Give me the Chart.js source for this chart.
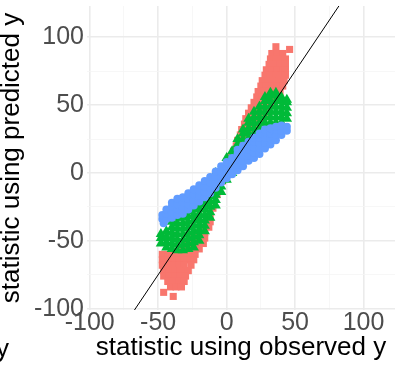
<!DOCTYPE html>
<html>
<head>
<meta charset="utf-8">
<script src="https://cdn.jsdelivr.net/npm/chart.js@4.4.1/dist/chart.umd.min.js"></script>
<style>
  html, body { margin: 0; padding: 0; background: #fff; }
  #wrap { width: 408px; height: 367px; }
</style>
</head>
<body>
<div id="wrap"><canvas id="chart" width="408" height="367"></canvas></div>
<script>
const FONT = '"Liberation Sans", Arial, sans-serif';

// axis ticks (labelled) and minor grid positions
const majorTicks = [-100, -50, 0, 50, 100];
const minorTicks = [-75, -25, 25, 75];
const xRange = [-102, 123];
const yRange = [-101, 123];

// reference line y = slope * x
const refSlope = 1.5;
const refLineX = [-70, 85];

// red squares
const redPoints = [
  [36, 93], [46, 91],
  [33, 88], [37, 88], [41, 88],
  [32, 84], [36, 84], [40, 84], [43, 84],
  [31, 80], [35, 80], [39, 80], [43, 80],
  [29, 76], [33, 76], [37, 76], [41, 76], [43, 76],
  [28, 72], [32, 72], [36, 72], [40, 72], [43, 72],
  [26, 68], [30, 68], [34, 68], [38, 68], [42, 68],
  [25, 64], [29, 64], [33, 64], [37, 64], [41, 64],
  [23, 60], [27, 60], [31, 60], [35, 60], [39, 60],
  [22, 56], [26, 56], [30, 56], [34, 56],
  [20, 52], [24, 52], [28, 52], [32, 52],
  [18, 48], [22, 48], [26, 48], [30, 48],
  [16, 44], [20, 44], [24, 44], [28, 44],
  [14, 40], [18, 40], [22, 40], [26, 40],
  [13, 36], [17, 36], [21, 36],
  [11, 32], [15, 32], [19, 32],
  [10, 28], [14, 28], [18, 28],
  [8, 24], [12, 24], [16, 24],
  [7, 20], [11, 20],
  [5, 16], [9, 16],
  [3, 12], [7, 12],
  [1, 4], [-3, -6], [-7, -16], [-10, -26],
  [-12, -32],
  [-14, -36], [-12, -36],
  [-17, -40], [-13, -40],
  [-20, -44], [-16, -44],
  [-24, -48], [-20, -48], [-16, -48],
  [-28, -52], [-24, -52], [-20, -52], [-17, -52],
  [-32, -56], [-28, -56], [-24, -56], [-20, -56],
  [-47, -60], [-43, -60], [-39, -60], [-35, -60], [-31, -60], [-27, -60], [-23, -60],
  [-47, -64], [-43, -64], [-39, -64], [-35, -64], [-31, -64], [-27, -64], [-24, -64],
  [-47, -68], [-43, -68], [-39, -68], [-35, -68], [-31, -68], [-26, -68],
  [-46, -72], [-42, -72], [-38, -72], [-34, -72], [-30, -72], [-28, -72],
  [-46, -76], [-42, -76], [-38, -76], [-34, -76], [-30, -76],
  [-43, -80], [-39, -80], [-35, -80], [-31, -80],
  [-41, -84], [-37, -84], [-33, -84],
  [-46, -88], [-39, -91]
];

// green triangles
const greenPoints = [
  [-48, -52], [-48, -48], [-48, -45],
  [-44, -55], [-44, -51], [-44, -47], [-44, -43],
  [-40, -56], [-40, -52], [-40, -48], [-40, -44], [-40, -40], [-40, -36],
  [-36, -57], [-36, -53], [-36, -49], [-36, -45], [-36, -41], [-36, -37], [-36, -33],
  [-32, -57], [-32, -53], [-32, -49], [-32, -45], [-32, -41], [-32, -37], [-32, -33], [-32, -29],
  [-28, -56], [-28, -52], [-28, -48], [-28, -44], [-28, -40], [-28, -36], [-28, -32], [-28, -28], [-28, -25],
  [-24, -55], [-24, -51], [-24, -47], [-24, -43], [-24, -39], [-24, -35], [-24, -31], [-24, -27], [-24, -23], [-24, -20],
  [-20, -50], [-20, -46], [-20, -42], [-20, -38], [-20, -34], [-20, -30], [-20, -26], [-20, -22], [-20, -18], [-20, -15],
  [-16, -43], [-16, -39], [-16, -35], [-16, -31], [-16, -27], [-16, -23], [-16, -19], [-16, -15], [-16, -11],
  [-12, -33], [-12, -29], [-12, -25], [-12, -21], [-12, -17], [-12, -13], [-12, -9], [-12, -5],
  [-8, -24], [-8, -20], [-8, -16], [-8, -12], [-8, -8], [-8, -4], [-8, 0],
  [-4, -14], [-4, -10], [-4, -6], [-4, -2], [-4, 2],
  [0, -5], [0, -1], [0, 3], [0, 7], [0, 11],
  [4, 0], [4, 4], [4, 8], [4, 12], [4, 16],
  [8, 5], [8, 9], [8, 13], [8, 17], [8, 21], [8, 25],
  [12, 9], [12, 13], [12, 17], [12, 21], [12, 25], [12, 29], [12, 32],
  [16, 13], [16, 17], [16, 21], [16, 25], [16, 29], [16, 33], [16, 37], [16, 40],
  [20, 17], [20, 21], [20, 25], [20, 29], [20, 33], [20, 37], [20, 41], [20, 45],
  [24, 21], [24, 25], [24, 29], [24, 33], [24, 37], [24, 41], [24, 45], [24, 49],
  [28, 25], [28, 29], [28, 33], [28, 37], [28, 41], [28, 45], [28, 49], [28, 53], [28, 56],
  [32, 29], [32, 33], [32, 37], [32, 41], [32, 45], [32, 49], [32, 53], [32, 57], [32, 59],
  [36, 33], [36, 37], [36, 41], [36, 45], [36, 49], [36, 53], [36, 57], [36, 59],
  [40, 37], [40, 41], [40, 45], [40, 49], [40, 53], [40, 56],
  [44, 40], [44, 44], [44, 48], [44, 52], [44, 54]
];

// blue circles
const bluePoints = [
  [-47, -34], [-47, -31], [-46, -37],
  [-44, -34], [-44, -30], [-44, -27],
  [-40, -33], [-40, -29], [-40, -25], [-40, -22],
  [-36, -31], [-36, -27], [-36, -23], [-36, -19],
  [-32, -30], [-32, -26], [-32, -22], [-32, -18],
  [-28, -27], [-28, -23], [-28, -19], [-28, -15],
  [-24, -24], [-24, -20], [-24, -16], [-24, -12],
  [-20, -21], [-20, -17], [-20, -13], [-20, -9],
  [-16, -18], [-16, -14], [-16, -10], [-16, -6],
  [-12, -15], [-12, -11], [-12, -7], [-12, -3],
  [-8, -11], [-8, -7], [-8, -3], [-8, 1],
  [-4, -7], [-4, -3], [-4, 1], [-4, 5],
  [0, -4], [0, 0], [0, 4], [0, 8],
  [4, -1], [4, 3], [4, 7], [4, 11],
  [8, 2], [8, 6], [8, 10], [8, 14], [8, 17],
  [12, 5], [12, 9], [12, 13], [12, 17], [12, 20],
  [16, 9], [16, 13], [16, 17], [16, 21], [16, 23],
  [20, 11], [20, 15], [20, 19], [20, 23], [20, 26],
  [24, 14], [24, 18], [24, 22], [24, 26], [24, 29],
  [28, 18], [28, 22], [28, 26], [28, 30], [28, 32],
  [32, 21], [32, 25], [32, 29], [32, 33],
  [36, 24], [36, 28], [36, 32], [36, 34],
  [40, 28], [40, 31], [40, 35],
  [44, 31], [44, 34]
];

const toXY = (pts) => pts.map(([x, y]) => ({ x, y }));

function gridColor(ctx) {
  return majorTicks.includes(ctx.tick.value) ? "#EBEBEB" : "#F5F5F5";
}
function gridWidth(ctx) {
  return majorTicks.includes(ctx.tick.value) ? 1.6 : 0.8;
}

function axis(range, titleText, titleOpts, tickPad, fitSize) {
  return {
    type: "linear",
    min: range[0],
    max: range[1],
    afterBuildTicks: (scale) => {
      scale.ticks = [...majorTicks, ...minorTicks].sort((a, b) => a - b).map((v) => ({ value: v }));
    },
    afterFit: (scale) => {
      fitSize(scale);
      // labels sit well inside the panel, no extra edge padding needed
      scale.paddingTop = 0;
      scale.paddingBottom = 0;
      scale.paddingLeft = 0;
      scale.paddingRight = 0;
    },
    ticks: {
      autoSkip: false,
      maxRotation: 0,
      padding: tickPad,
      color: "#4D4D4D",
      font: { family: FONT, size: 25, lineHeight: 1 },
      callback: (value) => (majorTicks.includes(value) ? String(value) : "")
    },
    grid: { color: gridColor, lineWidth: gridWidth, drawTicks: false },
    border: { display: false },
    title: Object.assign({
      display: true,
      text: titleText,
      color: "#000",
      font: { family: FONT, size: 26, lineHeight: 0.9 }
    }, titleOpts)
  };
}

// clipped stray legend letter at the bottom-left
const strayLetter = {
  id: "strayLetter",
  afterDraw(chart) {
    const ctx = chart.ctx;
    ctx.save();
    ctx.font = "26px " + FONT;
    ctx.fillStyle = "#000";
    ctx.textBaseline = "alphabetic";
    ctx.fillText("y", -4, 357);
    ctx.restore();
  }
};

new Chart(document.getElementById("chart"), {
  type: "scatter",
  data: {
    datasets: [
      {
        type: "line",
        data: refLineX.map((x) => ({ x, y: refSlope * x })),
        borderColor: "#000",
        borderWidth: 1,
        pointRadius: 0,
        order: 0
      },
      {
        data: toXY(bluePoints),
        pointStyle: "circle",
        pointRadius: 4,
        pointBackgroundColor: "#619CFF",
        pointBorderWidth: 0,
        order: 1
      },
      {
        data: toXY(greenPoints),
        pointStyle: "triangle",
        pointRadius: 6,
        pointBackgroundColor: "#00BA38",
        pointBorderWidth: 0,
        order: 2
      },
      {
        data: toXY(redPoints),
        pointStyle: "rect",
        pointRadius: 5,
        pointBackgroundColor: "#F8766D",
        pointBorderWidth: 0,
        order: 3
      }
    ]
  },
  options: {
    responsive: false,
    animation: false,
    layout: { padding: { top: 3, right: 13, left: 0, bottom: 0 } },
    plugins: { legend: { display: false }, tooltip: { enabled: false } },
    scales: {
      x: axis(xRange, "statistic using observed y", { padding: { top: 0, bottom: 7.6 } }, 1, (s) => { s.height = 57; }),
      y: axis(yRange, "statistic using predicted y", { padding: { top: 0, bottom: 0 } }, 3, (s) => { s.width = 87; })
    }
  },
  plugins: [strayLetter]
});
</script>
</body>
</html>
